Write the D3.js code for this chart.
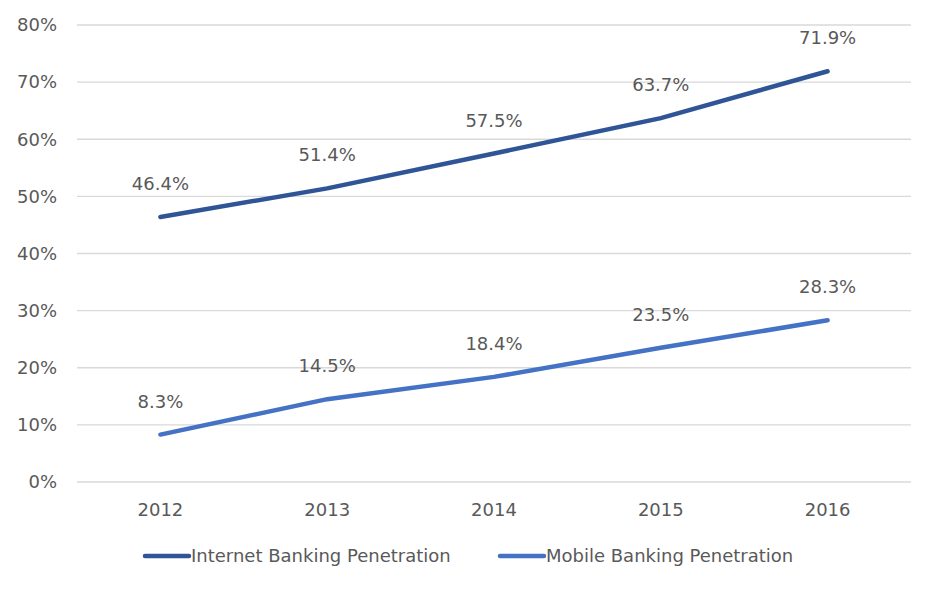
<!DOCTYPE html>
<html><head><meta charset="utf-8">
<script src="https://cdn.jsdelivr.net/npm/d3@7"></script>
<style>body{margin:0;background:#fff}text{font-family:"DejaVu Sans",Verdana,sans-serif;fill:#595959}</style>
</head><body><svg id="c" width="934" height="591"></svg>
<script>
const years = ["2012","2013","2014","2015","2016"];
const internet = [46.4, 51.4, 57.5, 63.7, 71.9];
const mobile = [8.3, 14.5, 18.4, 23.5, 28.3];
const seriesNames = ["Internet Banking Penetration","Mobile Banking Penetration"];
const colors = ["#2F5597","#4472C4"];
const yTicks = [0,10,20,30,40,50,60,70,80];

const svg = d3.select("#c");
const L=77, R=911, T=25, B=482;
const x = d3.scalePoint().domain(years).range([L,R]).padding(0.5);
const y = d3.scaleLinear().domain([0,80]).range([B,T]);
const fs = 18;

svg.append("g").selectAll("line").data(yTicks).join("line")
  .attr("x1",L).attr("x2",R).attr("y1",d=>y(d)).attr("y2",d=>y(d))
  .attr("stroke","#d9d9d9").attr("stroke-width",1.3);
svg.append("g").selectAll("text").data(yTicks).join("text")
  .attr("x",57).attr("y",d=>y(d)).attr("dy","0.35em").attr("text-anchor","end")
  .attr("font-size",fs).text(d=>d+"%");
svg.append("g").selectAll("text").data(years).join("text")
  .attr("x",d=>x(d)).attr("y",516).attr("text-anchor","middle")
  .attr("font-size",fs).text(d=>d);

const line = d3.line().x((d,i)=>x(years[i])).y(d=>y(d));
[internet,mobile].forEach((s,k)=>{
  svg.append("path").datum(s).attr("d",line).attr("fill","none")
    .attr("stroke",colors[k]).attr("stroke-width",4.5).attr("stroke-linecap","round");
  svg.append("g").selectAll("text").data(s).join("text")
    .attr("x",(d,i)=>x(years[i])).attr("y",d=>y(d)-27).attr("text-anchor","middle")
    .attr("font-size",fs).text(d=>d.toFixed(1)+"%");
});

const lg = [{x:145,t:seriesNames[0],c:colors[0]},{x:500,t:seriesNames[1],c:colors[1]}];
lg.forEach(g=>{
  svg.append("line").attr("x1",g.x).attr("x2",g.x+44).attr("y1",556).attr("y2",556)
    .attr("stroke",g.c).attr("stroke-width",4.5).attr("stroke-linecap","round");
  svg.append("text").attr("x",g.x+46).attr("y",556).attr("dy","0.35em").attr("font-size",fs).text(g.t);
});
</script></body></html>
